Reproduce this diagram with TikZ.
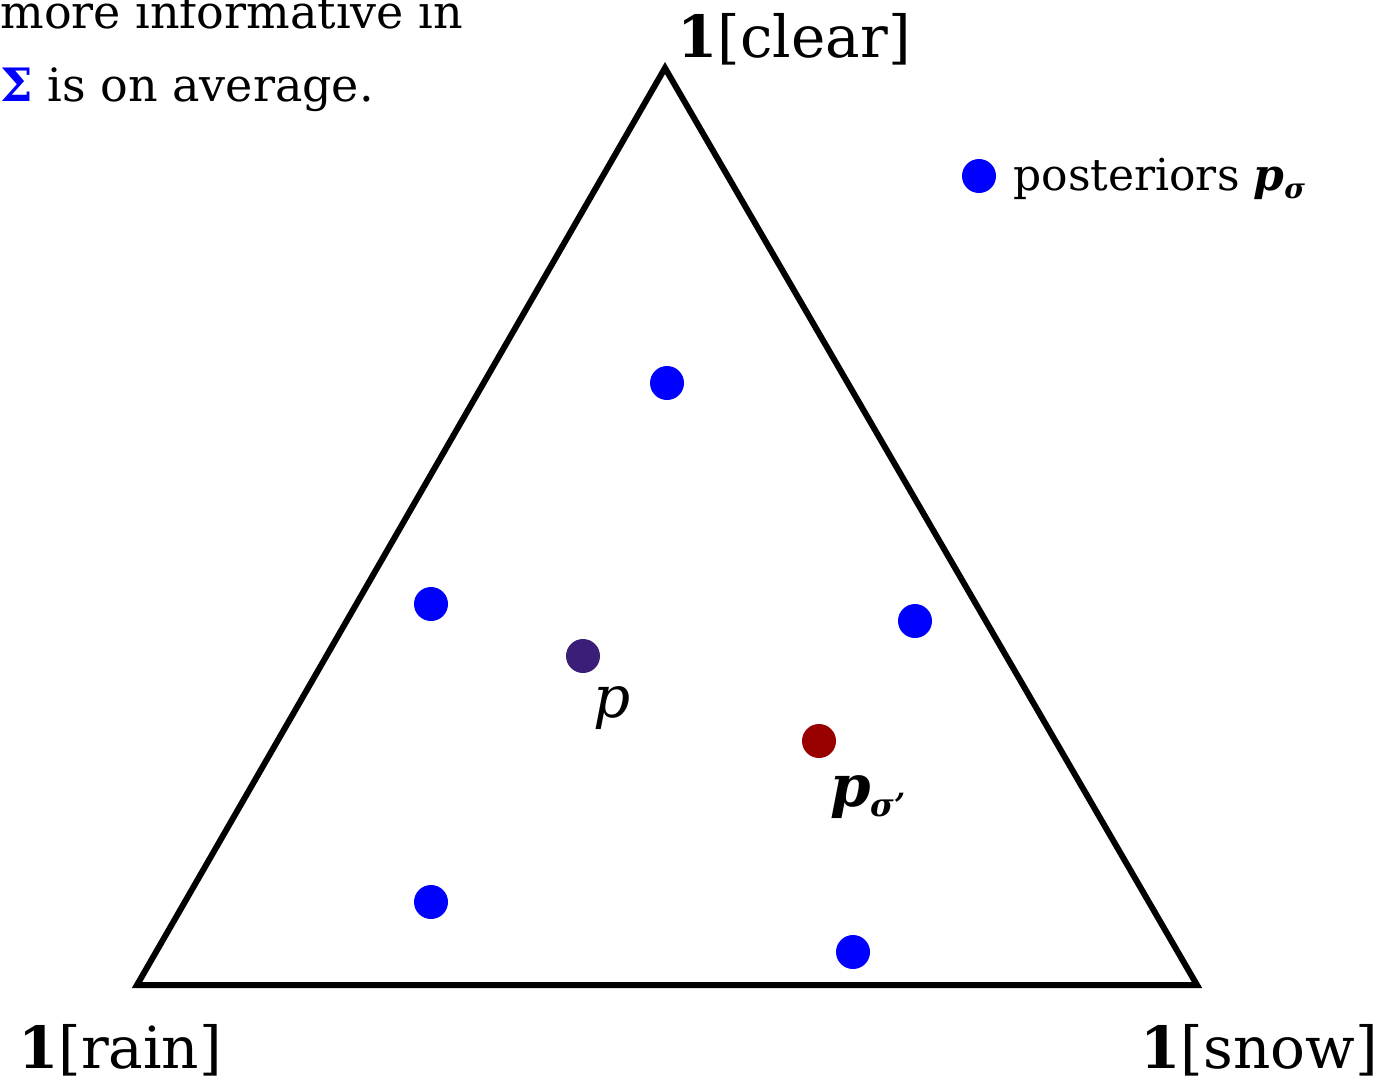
\documentclass[tikz,border=0pt]{standalone}
\usepackage{fontspec}
\setmainfont{DejaVu Serif}
\usetikzlibrary{positioning}
\definecolor{postblue}{RGB}{0,0,255}
\definecolor{priorpurple}{RGB}{58,30,120}
\definecolor{signalred}{RGB}{153,0,0}

\begin{document}
\begin{tikzpicture}[
    x=0.5pt, y=-0.5pt,
    dot/.style={circle, inner sep=0pt, minimum size=17pt},
    corner/.style={font=\fontsize{29}{34}\selectfont, inner sep=0pt, anchor=base},
    body/.style={font=\fontsize{22}{26}\selectfont, inner sep=0pt, anchor=base west}
  ]
    \useasboundingbox (0,0) rectangle (1386,1083);

    % Simplex corners
    \coordinate (rain) at (137,985);
    \coordinate (clear) at (665,68);
    \coordinate (snow) at (1197,985);
    \draw[line width=3pt, line join=miter] (rain) -- (clear) -- (snow) -- cycle;

    % Corner labels
    \node[corner] (rainlbl) at (120,1068) {\textbf{1}[rain]};
    \node[corner] (clearlbl) at (794,57) {\textbf{1}[clear]};
    \node[corner] (snowlbl) at (1259,1068) {\textbf{1}[snow]};

    % Caption text, cut by the page edge
    \node[body, font=\fontsize{23}{27}\selectfont] (capone) at (0,28) {more informative in};
    \node[body, font=\fontsize{23}{27}\selectfont] (captwo) at (0,101)
      {{\color{postblue}\textbf{Σ}} is on average.};

    % Legend
    \node[dot, fill=postblue] (legdot) at (979,176) {};
    \node[body] (legtxt) at (1013,190)
      {posteriors \textbf{\textit{p}}\raisebox{-0.35ex}{\fontsize{14}{16}\selectfont\textbf{\textit{σ}}}};

    % Posteriors
    \node[dot, fill=postblue] (postA) at (667,383) {};
    \node[dot, fill=postblue] (postB) at (431,604) {};
    \node[dot, fill=postblue] (postC) at (915,621) {};
    \node[dot, fill=postblue] (postD) at (431,902) {};
    \node[dot, fill=postblue] (postE) at (853,952) {};

    % Prior and one posterior
    \node[dot, fill=priorpurple] (prior) at (583,656) {};
    \node[corner] (priorlbl) at (612,717) {\textit{p}};
    \node[dot, fill=signalred] (signal) at (819,741) {};
    \node[corner, anchor=base west] (signallbl) at (830,806)
      {\textbf{\textit{p}}\raisebox{-0.35ex}{\fontsize{16}{18}\selectfont\textbf{\textit{σ’}}}};
\end{tikzpicture}
\end{document}
